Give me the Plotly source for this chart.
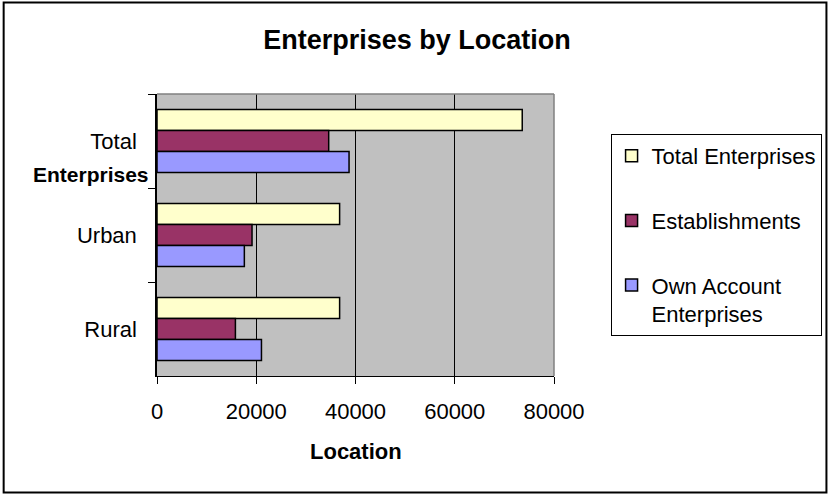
import plotly.graph_objects as go

W, H = 834, 495
FONT = "Arial, Liberation Sans, sans-serif"

locations = ["Total", "Urban", "Rural"]
total_enterprises = [73600, 36800, 36800]
establishments = [34600, 19150, 15800]
own_account = [38700, 17600, 21050]
x_ticks = [0, 20000, 40000, 60000, 80000]

series = [
    ("Total Enterprises", total_enterprises, "#FFFFCC"),
    ("Establishments", establishments, "#993366"),
    ("Own Account<br>Enterprises", own_account, "#9999FF"),
]

fig = go.Figure()
for i, (name, vals, color) in enumerate(series):
    fig.add_trace(go.Bar(
        y=locations, x=vals, name=name, orientation="h",
        marker=dict(color=color, line=dict(color="black", width=1.5)),
        legendgroup=f"g{i}",
    ))

# plot area in pixels
L, R, T, B = 157, 557, 94, 376
pw, ph = R - L, B - T

def px_x(x):
    return (x - L) / pw

def px_y(y):
    return (B - y) / ph

fig.update_layout(
    width=W, height=H,
    margin=dict(l=L, r=W - R, t=T, b=H - B),
    paper_bgcolor="white", plot_bgcolor="#C0C0C0",
    font=dict(family=FONT, size=22, color="black"),
    barmode="group", bargap=0.33, bargroupgap=0,
    title=dict(text="<b>Enterprises by Location</b>", x=0.5, xref="container",
               xanchor="center", y=1 - 40 / H, yanchor="middle",
               font=dict(size=27)),
    legend=dict(x=px_x(614), xanchor="left", y=px_y(134), yanchor="top",
                bgcolor="white", bordercolor="black", borderwidth=1,
                font=dict(size=22), tracegroupgap=33, valign="top"),
    showlegend=True,
)

fig.update_xaxes(
    range=[0, 80000], tickvals=x_ticks, ticktext=[str(v) for v in x_ticks],
    showgrid=True, gridcolor="black", gridwidth=1, zeroline=False,
    showline=True, linecolor="black", linewidth=1,
    ticks="outside", ticklen=7, tickcolor="black", ticklabelstandoff=9,
    fixedrange=True,
)
fig.update_yaxes(
    type="category", categoryorder="array", categoryarray=locations,
    autorange="reversed", showgrid=False,
    showline=True, linecolor="black", linewidth=1.5,
    ticks="outside", tickson="boundaries", ticklen=7, tickcolor="black",
    ticklabelstandoff=14,
)

# gray border on the top and right of the plot area
fig.add_shape(type="line", xref="paper", yref="paper", x0=0, x1=1, y0=1, y1=1,
              line=dict(color="#808080", width=1.5))
fig.add_shape(type="line", xref="paper", yref="paper", x0=1, x1=1, y0=0, y1=1,
              line=dict(color="#808080", width=1.5))
# outer chart frame
fig.add_shape(type="rect", xref="paper", yref="paper",
              x0=px_x(2.5), x1=px_x(831.5), y0=px_y(492.5), y1=px_y(2.5),
              line=dict(color="black", width=2))

fig.add_annotation(text="<b>Enterprises</b>", xref="paper", yref="paper",
                   x=px_x(151), y=px_y(174), xanchor="right", yanchor="middle",
                   showarrow=False, font=dict(size=21))
fig.add_annotation(text="<b>Location</b>", xref="paper", yref="paper",
                   x=px_x(357), y=px_y(451), xanchor="center", yanchor="middle",
                   showarrow=False, font=dict(size=22))

fig.write_html("out.html", config={"displayModeBar": False},
               post_script="document.body.style.margin='0';")
